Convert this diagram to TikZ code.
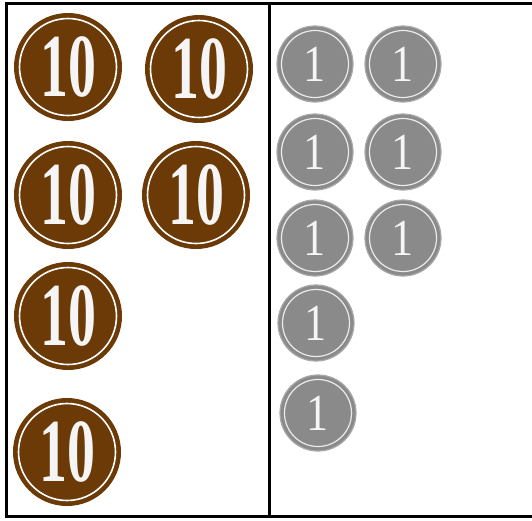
\documentclass[tikz,border=0pt]{standalone}
\usepackage{graphicx}
\usepackage{fontspec}
\newfontfamily\coinfont{Liberation Serif}
\definecolor{tenbrown}{HTML}{6B3A07}
\definecolor{onegray}{HTML}{8A8A8A}
\definecolor{onerim}{HTML}{A8A8A8}
\tikzset{
  tencoin/.style={circle, fill=tenbrown, minimum size=108pt, inner sep=0pt,
    text=white!96!black,
    path picture={\draw[white, line width=1.6pt] (path picture bounding box.center) circle (48.5pt);}},
  onecoin/.style={circle, fill=onegray, draw=onerim, line width=1.2pt, minimum size=76pt, inner sep=0pt,
    text=white!96!black,
    path picture={\draw[white!92!black, line width=1.2pt] (path picture bounding box.center) circle (33.5pt);}},
}
\newcommand{\tenlabel}{\scalebox{0.62}[1]{\fontsize{90}{90}\selectfont\coinfont\bfseries 10}}
\newcommand{\onelabel}{\scalebox{0.85}[1]{\fontsize{52}{52}\selectfont\coinfont 1}}
\begin{document}
\begin{tikzpicture}[x=1pt,y=-1pt]
    \useasboundingbox (0,0) rectangle (532,520);
    % frame
    \draw[line width=3.5pt] (532,3.5) -- (6.5,3.5) -- (6.5,516.5) -- (532,516.5);
    \draw[line width=3.5pt] (269.5,3.5) -- (269.5,516.5);

    % tens
    \node[tencoin] (t1) at (68,67) {\tenlabel};
    \node[tencoin] (t2) at (199,69) {\tenlabel};
    \node[tencoin] (t3) at (68,195) {\tenlabel};
    \node[tencoin] (t4) at (196,195) {\tenlabel};
    \node[tencoin] (t5) at (68,316) {\tenlabel};
    \node[tencoin] (t6) at (67,452) {\tenlabel};

    % ones
    \foreach \r/\y in {1/64,2/152,3/238}{
      \node[onecoin] (o\r a) at (315,\y) {\onelabel};
      \node[onecoin] (o\r b) at (403,\y) {\onelabel};
    }
    \node[onecoin] (o4a) at (316,323) {\onelabel};
    \node[onecoin] (o5a) at (318,413) {\onelabel};
\end{tikzpicture}
\end{document}
